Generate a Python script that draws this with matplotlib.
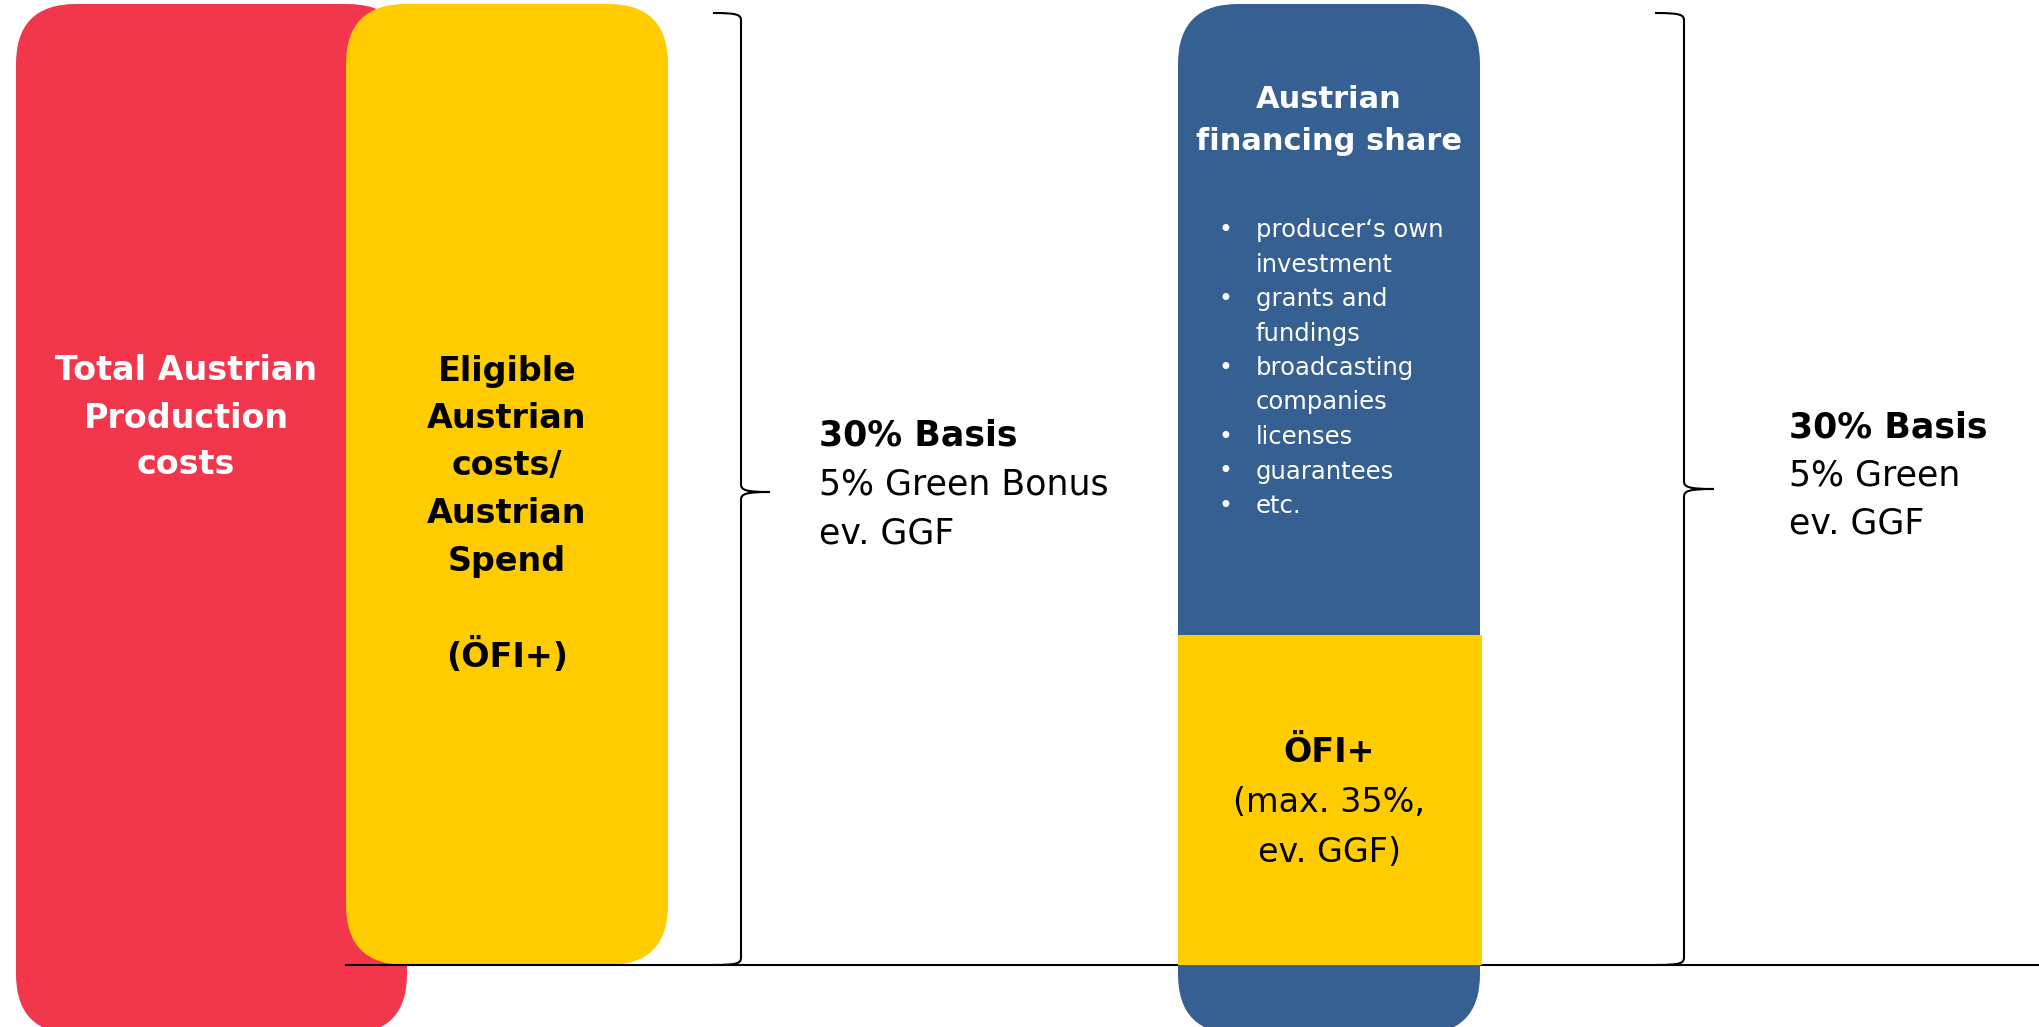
import matplotlib.pyplot as plt
from matplotlib.patches import FancyBboxPatch, Rectangle, PathPatch
from matplotlib.path import Path

W, H = 2039, 1027

# text content
total_lines = ["Total Austrian", "Production", "costs"]
eligible_lines = ["Eligible", "Austrian", "costs/", "Austrian", "Spend", "", "(ÖFI+)"]
basis_left = ["30% Basis", "5% Green Bonus", "ev. GGF"]
basis_right = ["30% Basis", "5% Green", "ev. GGF"]
share_title = ["Austrian", "financing share"]
share_items = ["producer‘s own\ninvestment", "grants and\nfundings", "broadcasting\ncompanies",
               "licenses", "guarantees", "etc."]
ofi_lines = ["ÖFI+", "(max. 35%,", "ev. GGF)"]

RED = "#F2364B"
YELLOW = "#FFCC00"
BLUE = "#366092"

fig = plt.figure(figsize=(W / 100, H / 100), dpi=100)
ax = fig.add_axes([0, 0, 1, 1])
ax.set_xlim(0, W)
ax.set_ylim(H, 0)
ax.axis("off")


def rounded(x0, y0, x1, y1, color, z, r=60):
    box = FancyBboxPatch((x0, y0), x1 - x0, y1 - y0,
                         boxstyle=f"round,pad=0,rounding_size={r}",
                         fc=color, ec="none", zorder=z)
    ax.add_patch(box)


def brace(x_end, x_spine, x_tip, top, bottom, mid):
    c = 8
    verts = [(x_end, top), (x_spine - 2, top), (x_spine, top + 2), (x_spine, top + c),
             (x_spine, mid - c),
             (x_spine, mid - 2), (x_spine + 4, mid), (x_tip, mid),
             (x_spine + 4, mid), (x_spine, mid + 2), (x_spine, mid + c),
             (x_spine, bottom - c),
             (x_spine, bottom - 2), (x_spine - 2, bottom), (x_end, bottom)]
    codes = [Path.MOVETO, Path.CURVE4, Path.CURVE4, Path.CURVE4,
             Path.LINETO,
             Path.CURVE4, Path.CURVE4, Path.CURVE4,
             Path.CURVE4, Path.CURVE4, Path.CURVE4,
             Path.LINETO,
             Path.CURVE4, Path.CURVE4, Path.CURVE4]
    ax.add_patch(PathPatch(Path(verts, codes), fc="none", ec="black", lw=1.5, zorder=5))


def block(lines, x, y0, dy, size, weights, color, ha="center"):
    for i, line in enumerate(lines):
        ax.text(x, y0 + i * dy, line, ha=ha, va="center", fontsize=size,
                fontweight=weights[i] if isinstance(weights, list) else weights,
                color=color, zorder=6)


# boxes
rounded(16, 4, 407, 1034, RED, 1)
rounded(346, 4, 668, 965, YELLOW, 2)
ax.plot([346, W], [965, 965], color="black", lw=1.5, zorder=2.5)
rounded(1178, 4, 1480, 1034, BLUE, 3)
ax.add_patch(Rectangle((1178, 635), 304, 330, fc=YELLOW, ec="none", zorder=4))

# braces
brace(713, 741, 770, 13, 965, 492)
brace(1655, 1684, 1714, 13, 965, 489)

# labels
block(total_lines, 186, 371, 47, 24, "bold", "white")
block(eligible_lines, 507, 371, 47.5, 24, "bold", "black")
block(basis_left, 819, 436, 48.5, 25, ["bold", "normal", "normal"], "black", ha="left")
block(basis_right, 1789, 427, 48, 25, ["bold", "normal", "normal"], "black", ha="left")
block(share_title, 1329, 100, 42, 22, "bold", "white")
block(ofi_lines, 1329, 752, 50, 24, ["bold", "normal", "normal"], "black")

# bullet list
row = 0
for item in share_items:
    parts = item.split("\n")
    ax.text(1225, 230 + row * 34.5, "•", ha="center", va="center", fontsize=17, color="white", zorder=6)
    for part in parts:
        ax.text(1256, 230 + row * 34.5, part, ha="left", va="center", fontsize=17.5,
                color="white", zorder=6)
        row += 1

fig.savefig("out.png", dpi=100)
